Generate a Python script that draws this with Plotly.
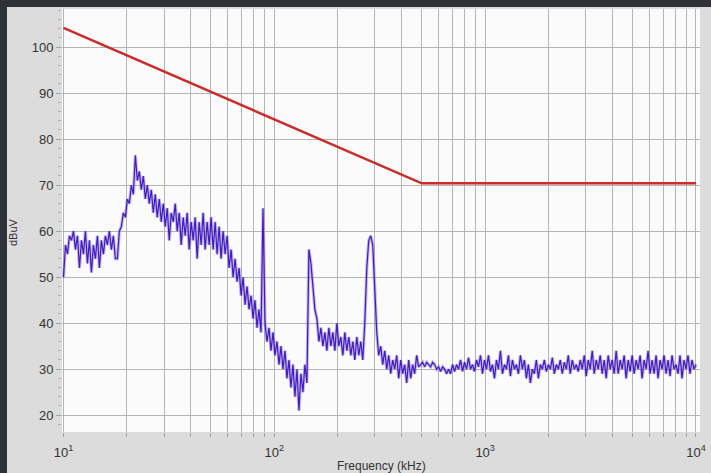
import numpy as np
import plotly.graph_objects as go

# ---- data ----
sweep_start_khz = 10
sweep_stop_khz = 10000

# measured level (dBuV), one value per sweep point (log-spaced sweep 10 kHz .. 10 MHz)
level_dbuv = [
    # 10 - 19 kHz
    50, 57, 55, 59, 58, 60, 56, 59, 52, 58, 55, 60, 53, 58, 51, 57, 54, 59, 52, 58,
    55, 59, 57, 60, 56, 59, 54,
    # rise
    54, 60, 61, 64, 63, 67, 66, 70, 68,
    # 21 - 80 kHz
    76.5, 71, 73, 69, 72, 67, 70, 66, 69, 64,
    68, 63, 67, 62, 66, 61, 65, 58, 64, 62,
    66, 60, 64, 57, 63, 59, 64, 56, 62, 58,
    63, 54, 62, 57, 64, 56, 62, 57, 63, 56,
    62, 55, 61, 54, 60, 55, 59, 52, 56, 50,
    54, 49, 52, 46, 50, 44, 48, 43, 46, 41,
    45, 39, 43, 38,
    # 88 kHz spike, 88 - 150 kHz
    65, 40, 36, 39, 34, 38, 33, 36, 31, 35,
    30, 34, 28, 32, 26, 31, 24, 30, 21, 29,
    25, 31, 27, 56, 53, 47, 43, 41,
    # 150 - 500 kHz
    36, 39, 35, 38, 34, 39, 35, 38, 34, 40,
    35, 37, 33, 38, 34, 37, 33, 36, 32, 37,
    33, 36, 32, 40, 52, 58, 59, 57, 48, 38,
    33, 35, 31, 34, 30, 33, 29, 32, 30, 33,
    28, 32, 29, 31, 27, 32, 28, 31, 29, 33,
    30.5, 31, 31.5, 30.5, 31.5, 31, 30.5, 31.5, 31, 30,
    30.5, 29.5, 30.5, 30, 29, 30, 29, 31, 29.5, 31,
    30, 32, 29.5, 31.5, 30, 32.5, 30, 31, 29.5, 32,
    30.5,
    # 1 - 10 MHz
    33, 29, 32, 30, 33, 29.5, 31, 28, 32, 30, 34, 29, 31, 30, 33, 28.5, 32, 30, 31, 29,
    33, 30, 32, 28, 31, 27, 30, 29, 32, 28, 31, 30, 32, 29.5, 31, 30, 32.5, 29, 31, 30,
    32, 29, 31.5, 30, 33, 29, 32, 30, 31, 29.5, 32, 30, 33, 28.5, 32, 30, 34, 29, 32, 30,
    33, 29, 32, 28, 33, 30, 32, 29, 34, 29, 32, 30, 33, 28, 32, 29.5, 33, 29, 32, 30,
    33, 28, 32, 30, 34, 29, 32, 29, 33, 28, 32, 30, 33, 29, 32, 28.5, 33, 30, 31, 29,
    33, 28, 32, 30, 33, 29, 32, 30, 31,
]

limit_freq_khz = [10, 500, 10000]
limit_dbuv = [104.2, 70.4, 70.4]

x_decades = [10, 100, 1000, 10000]
x_decade_labels = ["10<sup>1</sup>", "10<sup>2</sup>", "10<sup>3</sup>", "10<sup>4</sup>"]
y_tick_vals = [20, 30, 40, 50, 60, 70, 80, 90, 100]

# ---- build ----
freq_khz = np.geomspace(sweep_start_khz, sweep_stop_khz, len(level_dbuv))

fig = go.Figure()
# soft halo under the trace (gives the thick, smeared look of the measured band)
fig.add_trace(go.Scatter(
    x=freq_khz, y=level_dbuv, mode="lines",
    line=dict(color="rgba(150,128,212,0.55)", width=3.2),
    showlegend=False, hoverinfo="skip"))
fig.add_trace(go.Scatter(
    x=freq_khz, y=level_dbuv, mode="lines",
    line=dict(color="rgba(52,10,190,0.9)", width=1.2),
    showlegend=False, hoverinfo="skip"))
fig.add_trace(go.Scatter(
    x=limit_freq_khz, y=limit_dbuv, mode="lines",
    line=dict(color="#cc2b2b", width=2.5),
    showlegend=False, hoverinfo="skip"))

grid_color = "#b4b4b4"
font_family = "Liberation Sans, Arial, sans-serif"
fig.update_layout(
    width=711, height=473,
    margin=dict(l=62, r=11, t=9, b=41),
    paper_bgcolor="#dcdcdc",
    plot_bgcolor="#fbfbfb",
    font=dict(family=font_family, color="#333333", size=13),
    xaxis=dict(
        type="log", range=[0.9929, 4.019], automargin=False,
        tickmode="array", tickvals=x_decades, ticktext=x_decade_labels,
        showgrid=True, gridcolor=grid_color, gridwidth=1,
        ticks="outside", ticklen=4, tickcolor="#a0a0a0",
        minor=dict(dtick="D1", showgrid=True, gridcolor=grid_color, gridwidth=1,
                   ticks="outside", ticklen=4, tickcolor="#a0a0a0"),
        ticklabelstandoff=4,
        zeroline=False, showline=False,
        tickfont=dict(size=13, color="#333333"),
    ),
    yaxis=dict(
        range=[16.34, 108.3], automargin=False,
        tickmode="array", tickvals=y_tick_vals,
        showgrid=True, gridcolor=grid_color, gridwidth=1,
        ticks="outside", ticklen=5, tickcolor="#a0a0a0",
        minor=dict(dtick=2, ticks="outside", ticklen=3, tickcolor="#b0b0b0", showgrid=False),
        zeroline=False, showline=False,
        tickfont=dict(size=13, color="#333333"),
    ),
    shapes=[
        dict(type="rect", xref="paper", yref="paper", x0=-0.1, x1=1.02, y0=1.0047, y1=1.03,
             fillcolor="#2e3238", line=dict(width=0), layer="below"),
        dict(type="rect", xref="paper", yref="paper", x0=-0.1, x1=-0.0862, y0=-0.1, y1=1.03,
             fillcolor="#2e3238", line=dict(width=0), layer="below"),
    ],
    annotations=[
        dict(text="dBuV", xref="paper", yref="paper", x=-0.0768, y=0.4728,
             textangle=-90, showarrow=False, font=dict(size=11, color="#333333"),
             xanchor="center", yanchor="middle"),
        dict(text="Frequency (kHz)", xref="paper", yref="paper", x=0.5, y=-0.0805,
             showarrow=False, font=dict(size=12, color="#333333"),
             xanchor="center", yanchor="middle"),
    ],
)

fig.write_html(
    "out.html",
    config={"displayModeBar": False},
    post_script="document.body.style.margin='0';document.body.style.background='#2e3238';",
)
